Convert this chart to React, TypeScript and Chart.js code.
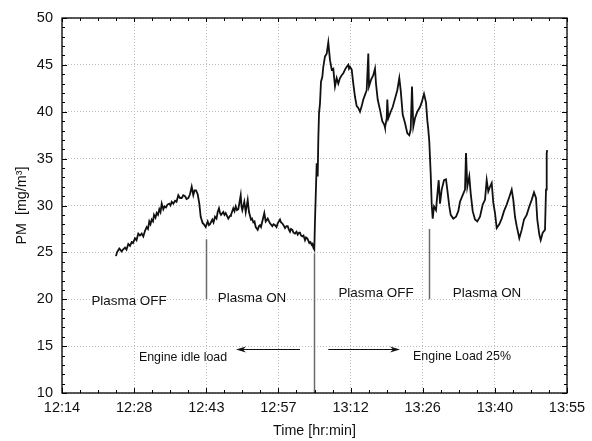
import React, { useEffect, useRef } from 'react';
import { Chart, registerables } from 'chart.js';

Chart.register(...registerables);

// Time axis: minutes after 12:14
const X_MIN = 0;
const X_MAX = 101;
const X_TICKS = [0, 14.43, 28.86, 43.29, 57.71, 72.14, 86.57, 101];
const X_TICK_LABELS = ['12:14', '12:28', '12:43', '12:57', '13:12', '13:26', '13:40', '13:55'];
const Y_MIN = 10;
const Y_MAX = 50;
const Y_STEP = 5;

const TIME_MIN = [
  10.8, 11.0, 11.46, 11.94, 12.2, 12.6, 12.9, 13.26, 13.6, 13.94,
  14.2, 14.6, 14.9, 15.26, 15.6, 15.94, 16.26, 16.6, 16.94, 17.2,
  17.46, 17.7, 17.94, 18.2, 18.4, 18.7, 18.94, 19.2, 19.46, 19.7,
  19.94, 20.26, 20.5, 20.8, 21.1, 21.46, 21.7, 21.94, 22.26, 22.6,
  22.9, 23.26, 23.6, 23.94, 24.26, 24.6, 24.9, 25.26, 25.6, 25.94,
  26.26, 26.5, 26.8, 27.14, 27.46, 27.74, 28.14,
  28.26, 28.5, 28.74, 29.14, 29.4, 29.6, 30.06, 30.3, 30.6, 30.9,
  31.14, 31.4, 31.6, 31.8, 32.26, 32.5, 32.74, 33.0, 33.26, 33.6,
  33.8, 34.26, 34.5, 34.74, 35.0, 35.26, 35.74, 35.9, 36.06, 36.46,
  36.74, 37.14, 37.4, 37.8, 38.0, 38.26, 38.5, 38.74, 39.14, 39.4,
  39.6, 39.8, 40.06, 40.46, 40.74, 41.14, 41.4, 41.6, 42.06, 42.3,
  42.6, 42.9, 43.14, 43.6, 43.8, 44.06, 44.3, 44.6, 44.9, 45.14,
  45.4, 45.6, 45.8, 46.06, 46.3, 46.6, 46.9, 47.14, 47.4, 47.6,
  47.8, 48.06, 48.3, 48.6, 48.8, 49.06, 49.3, 49.46, 49.7, 49.94,
  50.1, 50.26, 50.46, 50.6, 50.94, 51.14, 51.26, 51.4, 51.6, 51.8,
  52.06, 52.26, 52.6, 52.94, 53.26, 53.4, 53.6, 53.94, 54.26, 54.4,
  54.6, 54.94, 55.26, 55.6, 55.94, 56.26, 56.6, 56.94, 57.26, 57.4,
  57.6, 57.94, 58.26, 58.6, 58.94, 59.26, 59.6, 59.94, 60.26, 60.6,
  60.94, 61.26, 61.4, 61.8, 62.26, 62.6, 62.8, 63.14, 63.6, 64.06,
  64.46, 64.6, 64.94, 65.06, 65.26, 65.74, 66.14, 66.6, 67.06, 67.46,
  67.74, 68.14, 68.6, 69.06, 69.46, 69.74, 70.0, 70.26, 70.6, 71.06,
  71.6, 71.94, 72.4, 72.8, 73.06, 73.26, 73.46, 73.74, 73.94, 74.14,
  74.4, 74.8, 75.06, 75.34, 75.6, 75.94, 76.4, 76.8, 77.06, 77.46,
  77.74, 78.26, 78.8, 79.26, 79.6, 80.14, 80.6, 80.8, 81.06, 81.46,
  81.74, 82.14, 82.6, 83.06, 83.6, 84.14, 84.6, 84.94, 85.26, 85.6,
  85.94, 86.26, 86.6, 86.94, 87.46, 87.94, 88.4, 88.94, 89.46, 89.94,
  90.26, 90.6, 90.94, 91.46, 91.94, 92.4, 92.94, 93.46, 93.94, 94.4,
  94.8, 95.06, 95.46, 95.74, 96.14, 96.6, 96.8, 96.94, 97.04,
];

const PM_VALUES = [
  24.6, 25.0, 25.4, 25.1, 25.3, 25.5, 25.3, 25.9, 25.7, 26.1,
  26.0, 26.5, 26.3, 27.0, 26.8, 27.0, 26.7, 27.3, 27.7, 27.5,
  28.3, 28.0, 28.5, 28.3, 29.0, 28.7, 29.2, 29.0, 29.6, 29.3,
  30.2, 29.6, 29.9, 29.8, 30.1, 30.2, 30.0, 30.4, 30.2, 30.5,
  30.4, 31.1, 30.8, 30.8, 31.1, 31.0, 30.7, 30.8, 31.2, 32.0,
  31.1, 31.6, 31.6, 31.2, 30.2, 28.8, 28.1,
  28.1, 27.9, 27.7, 28.3, 27.9, 28.0, 28.5, 28.2, 28.8, 28.6,
  29.3, 29.7, 29.2, 29.0, 29.3, 29.0, 29.2, 28.9, 28.6, 28.9,
  29.0, 29.7, 29.4, 29.9, 29.5, 29.6, 31.1, 29.9, 29.5, 30.4,
  29.3, 30.6, 29.3, 28.5, 28.6, 28.2, 28.3, 27.7, 27.4, 27.8,
  27.9, 27.7, 28.3, 29.2, 28.3, 28.6, 28.3, 28.1, 27.8, 28.0,
  27.9, 27.7, 28.1, 28.5, 28.2, 28.1, 27.9, 27.6, 27.8, 27.8,
  27.4, 27.2, 27.5, 27.4, 27.1, 27.0, 27.2, 26.9, 27.1, 27.1,
  26.8, 26.7, 26.8, 26.3, 26.6, 26.5, 26.2, 26.0, 26.1, 25.8,
  25.9, 25.5, 25.3, 28.4, 34.5, 33.1, 37.0, 39.8, 40.9, 43.2,
  43.7, 44.8, 45.9, 46.2, 47.4, 46.6, 45.5, 44.5, 44.6, 43.8,
  42.7, 43.6, 43.0, 43.6, 43.9, 44.1, 44.5, 44.8, 45.0, 44.6,
  44.8, 44.5, 43.0, 41.6, 40.6, 40.4, 40.0, 40.6, 41.3, 41.8,
  42.3, 46.2, 42.7, 43.4, 43.9, 44.6, 43.0, 41.3, 40.2, 39.0,
  38.6, 38.3, 39.3, 41.3, 39.3, 40.0, 40.5, 41.4, 42.3, 43.6,
  42.3, 39.7, 38.8, 37.7, 37.5, 38.1, 42.7, 38.4, 39.3, 40.0,
  40.5, 41.0, 41.9, 41.0, 39.1, 38.1, 36.8, 33.4, 30.1, 28.6,
  29.9, 29.5, 31.1, 32.7, 30.2, 31.7, 32.7, 32.8, 31.7, 29.9,
  29.0, 28.6, 28.8, 29.4, 30.4, 31.1, 31.7, 35.6, 32.0, 33.1,
  31.3, 29.4, 28.5, 28.3, 28.8, 30.1, 30.6, 32.7, 31.5, 32.0,
  32.4, 30.3, 29.2, 27.6, 28.0, 28.6, 29.4, 30.1, 30.9, 31.7,
  30.6, 28.8, 27.8, 26.5, 27.4, 28.5, 29.0, 29.9, 30.6, 31.4,
  30.8, 28.5, 26.9, 26.3, 27.1, 27.4, 31.7, 35.6, 35.9,
];

// Vertical marker lines (x in minutes, from y0 to y1)
const MARKER_X = [28.86, 50.4, 73.4];
const MARKER_Y_TOP = [26.4, 24.9, 27.5];
const MARKER_Y_BOTTOM = [20, 10, 20];

const PHASE_TEXTS = ['Plasma OFF', 'Plasma ON', 'Plasma OFF', 'Plasma ON'];
const PHASE_X = [13.4, 38.0, 62.8, 85.0];
const PHASE_Y = [19.74, 20.06, 20.67, 20.67];

const LOAD_TEXTS = ['Engine idle load', 'Engine Load 25%'];
const LOAD_X = [24.2, 80.0];
const LOAD_Y = [13.81, 13.87];

const ARROW_FROM = [47.6, 53.26];
const ARROW_TO = [34.8, 67.6];
const ARROW_Y = [14.7, 14.7];

const FONT = '"Liberation Sans", Arial, Helvetica, sans-serif';

const overlayPlugin = {
  id: 'overlay',
  afterDraw(chart: any) {
    const { ctx, chartArea: a } = chart;
    const xs = chart.scales.x;
    const ys = chart.scales.y;
    ctx.save();

    // marker lines
    ctx.strokeStyle = '#6a6a6a';
    ctx.lineWidth = 1.5;
    for (let i = 0; i < MARKER_X.length; i++) {
      const px = Math.round(xs.getPixelForValue(MARKER_X[i])) + 0.5;
      ctx.beginPath();
      ctx.moveTo(px, ys.getPixelForValue(MARKER_Y_TOP[i]));
      ctx.lineTo(px, ys.getPixelForValue(MARKER_Y_BOTTOM[i]));
      ctx.stroke();
    }

    // frame
    ctx.strokeStyle = '#000';
    ctx.lineWidth = 1.3;
    ctx.strokeRect(a.left, a.top, a.right - a.left, a.bottom - a.top);

    // ticks (inward)
    ctx.lineWidth = 1;
    const tick = (x1: number, y1: number, x2: number, y2: number) => {
      ctx.beginPath();
      ctx.moveTo(x1, y1);
      ctx.lineTo(x2, y2);
      ctx.stroke();
    };
    for (let i = 0; i < X_TICKS.length; i++) {
      const px = Math.round(xs.getPixelForValue(X_TICKS[i])) + 0.5;
      tick(px, a.bottom, px, a.bottom - 5);
      tick(px, a.top, px, a.top + 4);
      if (i < X_TICKS.length - 1) {
        for (let k = 1; k < 4; k++) {
          const v = X_TICKS[i] + ((X_TICKS[i + 1] - X_TICKS[i]) * k) / 4;
          const mp = Math.round(xs.getPixelForValue(v)) + 0.5;
          tick(mp, a.bottom, mp, a.bottom - 3);
          tick(mp, a.top, mp, a.top + 3);
        }
      }
    }
    for (let v = Y_MIN; v <= Y_MAX; v += 1) {
      const py = Math.round(ys.getPixelForValue(v)) + 0.5;
      const len = v % Y_STEP === 0 ? 5 : 3;
      tick(a.left, py, a.left + len, py);
      tick(a.right, py, a.right - len, py);
    }

    // phase texts
    ctx.fillStyle = '#111';
    ctx.textAlign = 'center';
    ctx.textBaseline = 'middle';
    ctx.font = `13.4px ${FONT}`;
    for (let i = 0; i < PHASE_TEXTS.length; i++) {
      ctx.fillText(PHASE_TEXTS[i], xs.getPixelForValue(PHASE_X[i]), ys.getPixelForValue(PHASE_Y[i]));
    }
    ctx.font = `12.4px ${FONT}`;
    for (let i = 0; i < LOAD_TEXTS.length; i++) {
      ctx.fillText(LOAD_TEXTS[i], xs.getPixelForValue(LOAD_X[i]), ys.getPixelForValue(LOAD_Y[i]));
    }

    // arrows
    ctx.strokeStyle = '#111';
    ctx.lineWidth = 1.2;
    for (let i = 0; i < ARROW_FROM.length; i++) {
      const x0 = xs.getPixelForValue(ARROW_FROM[i]);
      const x1 = xs.getPixelForValue(ARROW_TO[i]);
      const py = Math.round(ys.getPixelForValue(ARROW_Y[i])) + 0.5;
      const dir = x1 > x0 ? 1 : -1;
      ctx.beginPath();
      ctx.moveTo(x0, py);
      ctx.lineTo(x1 - dir * 6, py);
      ctx.stroke();
      ctx.beginPath();
      ctx.moveTo(x1, py);
      ctx.lineTo(x1 - dir * 10, py - 3);
      ctx.lineTo(x1 - dir * 7, py);
      ctx.lineTo(x1 - dir * 10, py + 3);
      ctx.closePath();
      ctx.fill();
    }
    ctx.restore();
  },
};

export default function App() {
  const ref = useRef<HTMLCanvasElement>(null);
  useEffect(() => {
    const canvas = ref.current;
    if (!canvas) return;
    const n = Math.min(TIME_MIN.length, PM_VALUES.length);
    const points = [] as { x: number; y: number }[];
    for (let i = 0; i < n; i++) points.push({ x: TIME_MIN[i], y: PM_VALUES[i] });

    const tickFont = { family: FONT, size: 14.5 };
    const titleFont = { family: FONT, size: 14.3 };

    const chart = new Chart(canvas, {
      type: 'line',
      data: {
        datasets: [
          {
            data: points,
            borderColor: '#111',
            borderWidth: 1.8,
            pointRadius: 0,
            tension: 0,
            fill: false,
          },
        ],
      },
      options: {
        responsive: false,
        animation: false,
        devicePixelRatio: 1,
        layout: { padding: { top: 18, right: 25, left: 0, bottom: 0 } },
        plugins: { legend: { display: false }, tooltip: { enabled: false } },
        scales: {
          x: {
            type: 'linear',
            min: X_MIN,
            max: X_MAX,
            afterBuildTicks: (s: any) => {
              s.ticks = X_TICKS.map((v) => ({ value: v }));
            },
            afterFit: (s: any) => {
              s.height = 48;
            },
            ticks: {
              callback: (_v: any, i: number) => X_TICK_LABELS[i],
              padding: 6,
              font: tickFont,
              color: '#111',
              maxRotation: 0,
              autoSkip: false,
            },
            grid: { color: '#bdbdbd', lineWidth: 1, drawTicks: false },
            border: { display: false, dash: [1, 2] },
            title: {
              display: true,
              text: 'Time [hr:min]',
              font: titleFont,
              color: '#111',
              padding: { top: 0, bottom: 1 },
            },
          },
          y: {
            type: 'linear',
            min: Y_MIN,
            max: Y_MAX,
            afterFit: (s: any) => {
              s.width = 62;
            },
            ticks: {
              stepSize: Y_STEP,
              padding: 9,
              font: tickFont,
              color: '#111',
            },
            grid: { color: '#bdbdbd', lineWidth: 1, drawTicks: false },
            border: { display: false, dash: [1, 2] },
            title: {
              display: true,
              text: 'PM  [mg/m³]',
              font: titleFont,
              color: '#111',
              padding: { top: 13, bottom: 0 },
            },
          },
        },
      },
      plugins: [overlayPlugin],
    } as any);
    return () => chart.destroy();
  }, []);

  return (
    <div style={{ position: 'fixed', left: 0, top: 0, width: 592, height: 441, background: '#fff' }}>
      <canvas ref={ref} width={592} height={441} style={{ display: 'block' }} />
    </div>
  );
}
